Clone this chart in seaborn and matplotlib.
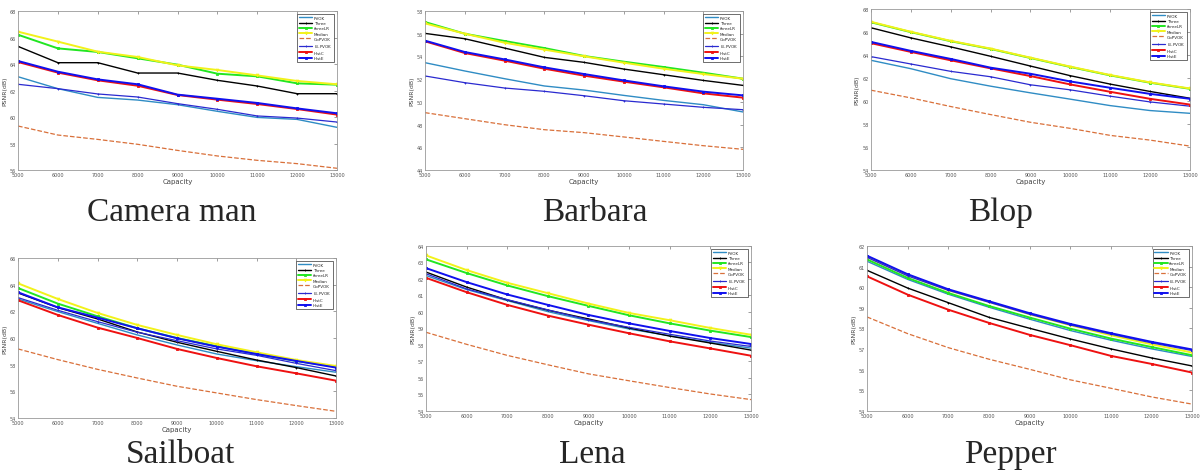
import matplotlib
matplotlib.use("Agg")
import matplotlib.pyplot as plt
import numpy as np
import pandas as pd
import seaborn as sns

capacity = [5000, 6000, 7000, 8000, 9000, 10000, 11000, 12000, 13000]
methods = ["PVOK", "Three", "threeLR", "Median", "GoPVOK", "$I_G$-PVOK", "HistC", "HistE"]

# PSNR values per image, one list per method (order as in `methods`)
camera_man = [
    [63.04, 62.14, 61.48, 61.28, 60.93, 60.43, 59.97, 59.82, 59.22],
    [65.33, 64.10, 64.10, 63.32, 63.32, 62.77, 62.34, 61.76, 61.76],
    [66.21, 65.18, 64.91, 64.43, 63.95, 63.27, 63.07, 62.54, 62.44],
    [66.44, 65.69, 64.93, 64.53, 63.90, 63.55, 63.14, 62.72, 62.47],
    [59.32, 58.64, 58.31, 57.94, 57.48, 57.06, 56.73, 56.48, 56.13],
    [62.47, 62.14, 61.74, 61.51, 61.01, 60.58, 60.08, 59.92, 59.62],
    [64.15, 63.35, 62.77, 62.36, 61.66, 61.31, 60.98, 60.60, 60.18],
    [64.23, 63.42, 62.84, 62.47, 61.69, 61.38, 61.06, 60.65, 60.28],
]
barbara = [
    [53.45, 52.72, 52.04, 51.40, 51.04, 50.57, 50.13, 49.75, 49.11],
    [56.03, 55.56, 54.74, 53.92, 53.48, 52.89, 52.39, 51.89, 51.45],
    [57.03, 56.00, 55.36, 54.74, 54.04, 53.54, 53.07, 52.57, 52.04],
    [56.91, 56.00, 55.21, 54.60, 54.01, 53.45, 52.92, 52.45, 52.04],
    [49.05, 48.52, 47.99, 47.55, 47.29, 46.91, 46.52, 46.14, 45.82],
    [52.28, 51.69, 51.22, 50.93, 50.54, 50.10, 49.81, 49.52, 49.31],
    [55.33, 54.30, 53.63, 52.92, 52.31, 51.78, 51.28, 50.75, 50.37],
    [55.39, 54.39, 53.74, 53.04, 52.45, 51.89, 51.37, 50.90, 50.57],
]
blop = [
    [63.54, 62.81, 61.94, 61.29, 60.71, 60.16, 59.60, 59.17, 58.93],
    [66.37, 65.49, 64.71, 63.89, 63.04, 62.20, 61.47, 60.83, 60.24],
    [66.85, 65.99, 65.20, 64.53, 63.74, 62.96, 62.23, 61.59, 61.06],
    [66.89, 66.02, 65.23, 64.56, 63.77, 62.99, 62.26, 61.62, 61.09],
    [60.94, 60.27, 59.52, 58.82, 58.15, 57.62, 57.01, 56.60, 56.08],
    [63.86, 63.22, 62.58, 62.11, 61.41, 60.97, 60.42, 59.92, 59.55],
    [65.03, 64.27, 63.54, 62.84, 62.17, 61.44, 60.80, 60.19, 59.69],
    [65.14, 64.36, 63.66, 62.90, 62.37, 61.70, 61.15, 60.62, 60.19],
]
sailboat = [
    [62.93, 61.98, 61.10, 60.23, 59.48, 58.80, 58.30, 57.85, 57.43],
    [63.38, 62.28, 61.43, 60.45, 59.68, 59.00, 58.35, 57.78, 57.15],
    [63.75, 62.58, 61.63, 60.73, 60.00, 59.38, 58.80, 58.28, 57.83],
    [64.10, 62.93, 61.88, 60.98, 60.23, 59.53, 58.93, 58.35, 57.90],
    [59.18, 58.38, 57.65, 57.00, 56.38, 55.88, 55.38, 54.93, 54.50],
    [63.03, 62.08, 61.23, 60.43, 59.80, 59.18, 58.70, 58.10, 57.55],
    [62.83, 61.73, 60.78, 60.00, 59.18, 58.50, 57.88, 57.35, 56.80],
    [63.43, 62.30, 61.53, 60.73, 59.98, 59.35, 58.80, 58.28, 57.78],
]
lena = [
    [62.21, 61.36, 60.69, 60.02, 59.48, 58.97, 58.56, 58.16, 57.81],
    [62.42, 61.51, 60.73, 60.11, 59.58, 59.03, 58.54, 58.12, 57.69],
    [63.19, 62.36, 61.61, 60.96, 60.37, 59.80, 59.31, 58.87, 58.48],
    [63.43, 62.54, 61.77, 61.14, 60.51, 59.94, 59.50, 59.03, 58.62],
    [58.77, 58.04, 57.37, 56.80, 56.25, 55.83, 55.42, 55.03, 54.69],
    [62.32, 61.40, 60.75, 60.13, 59.52, 59.07, 58.65, 58.24, 57.91],
    [62.07, 61.20, 60.43, 59.78, 59.23, 58.71, 58.22, 57.79, 57.35],
    [62.66, 61.81, 61.06, 60.43, 59.82, 59.31, 58.85, 58.42, 58.06],
]
pepper = [
    [61.26, 60.38, 59.66, 59.03, 58.45, 57.90, 57.43, 57.01, 56.64],
    [60.82, 59.96, 59.25, 58.54, 58.01, 57.49, 57.01, 56.57, 56.18],
    [61.35, 60.45, 59.72, 59.09, 58.53, 57.99, 57.51, 57.10, 56.70],
    [61.47, 60.58, 59.85, 59.29, 58.69, 58.16, 57.67, 57.23, 56.83],
    [58.56, 57.75, 57.07, 56.51, 56.02, 55.51, 55.10, 54.68, 54.33],
    [61.45, 60.55, 59.85, 59.27, 58.69, 58.17, 57.72, 57.30, 56.93],
    [60.53, 59.64, 58.91, 58.27, 57.69, 57.19, 56.67, 56.28, 55.86],
    [61.53, 60.63, 59.90, 59.32, 58.74, 58.22, 57.77, 57.35, 56.98],
]

images = ["Camera man", "Barbara", "Blop", "Sailboat", "Lena", "Pepper"]
image_data = [camera_man, barbara, blop, sailboat, lena, pepper]
y_ranges = [(56, 68, 2), (44, 58, 2), (54, 68, 2), (54, 66, 2), (54, 64, 1), (54, 62, 1)]

# line look, MATLAB-ish
styles = {
    "PVOK": dict(color="#2f8cc4", marker=None, ls="-", lw=1.0),
    "Three": dict(color="black", marker="+", ls="-", lw=1.0),
    "threeLR": dict(color="#22e622", marker="s", ls="-", lw=1.4),
    "Median": dict(color="#f2f21a", marker="v", ls="-", lw=1.4),
    "GoPVOK": dict(color="#d9703a", marker=None, ls="--", lw=0.9),
    "$I_G$-PVOK": dict(color="#2a2ad0", marker="+", ls="-", lw=0.9),
    "HistC": dict(color="#ee1111", marker="s", ls="-", lw=1.4),
    "HistE": dict(color="#1010ee", marker="s", ls="-", lw=1.4),
}

axes_pos = [
    [0.015, 0.6415, 0.2656, 0.3333],
    [0.3539, 0.6415, 0.2648, 0.3333],
    [0.7252, 0.6415, 0.2656, 0.3375],
    [0.015, 0.1216, 0.2648, 0.3354],
    [0.3547, 0.1363, 0.2706, 0.3459],
    [0.7219, 0.1363, 0.2710, 0.3459],
]
caption_pos = [(0.143, 0.553), (0.495, 0.553), (0.833, 0.553),
               (0.150, 0.046), (0.493, 0.046), (0.841, 0.046)]

sns.set_style("white")
fig = plt.figure(figsize=(12.01, 4.77), dpi=100)

for name, data, yr, pos, cap in zip(images, image_data, y_ranges, axes_pos, caption_pos):
    ax = fig.add_axes(pos)
    for m, vals in zip(methods, data):
        st = styles[m]
        sns.lineplot(x=capacity, y=vals, ax=ax, color=st["color"], marker=st["marker"],
                     linestyle=st["ls"], linewidth=st["lw"], markersize=2,
                     markeredgewidth=0.6, markeredgecolor=st["color"], label=m)
    ax.set_xlim(5000, 13000)
    ax.set_ylim(yr[0], yr[1])
    ax.set_xticks(capacity)
    ax.set_yticks(np.arange(yr[0], yr[1] + 0.1, yr[2]))
    ax.tick_params(axis="both", labelsize=3.5, direction="in", length=2, width=0.4,
                   colors="#555555", top=True, right=True, pad=1.5)
    for s in ax.spines.values():
        s.set_color("#999999")
        s.set_linewidth(0.6)
    ax.set_xlabel("Capacity", fontsize=5, color="#444444", labelpad=1)
    ax.set_ylabel("PSNR(dB)", fontsize=4.5, color="#444444", labelpad=2)
    leg = ax.legend(loc="upper right", fontsize=3.0, frameon=True, fancybox=False,
                    edgecolor="black", handlelength=3.2, borderpad=0.35, labelspacing=0.3,
                    handletextpad=0.4, borderaxespad=0.8)
    leg.get_frame().set_linewidth(0.5)
    fig.text(cap[0], cap[1], name, ha="center", va="center", fontsize=24,
             family="Liberation Serif")

fig.savefig("out.png", dpi=100)
